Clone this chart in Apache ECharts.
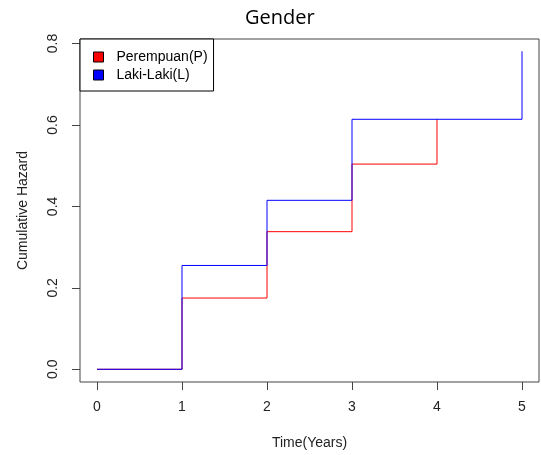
<!DOCTYPE html>
<html>
<head>
<meta charset="utf-8">
<script src="https://cdn.jsdelivr.net/npm/echarts@6/dist/echarts.min.js"></script>
<style>html,body{margin:0;padding:0;background:#fff;}#c{width:541px;height:455px;}</style>
</head>
<body>
<div id="c"></div>
<script>
const timesP = [0, 1, 2, 3, 4];
const hazardP = [0, 0.175, 0.338, 0.504, 0.614];
const timesL = [0, 1, 2, 3, 5];
const hazardL = [0, 0.255, 0.415, 0.614, 0.781];
const xTicks = [0, 1, 2, 3, 4, 5];
const yTicks = [0, 0.2, 0.4, 0.6, 0.8];
const seriesNames = ['Perempuan(P)', 'Laki-Laki(L)'];

const font = 'Liberation Sans';
const chart = echarts.init(document.getElementById('c'), null, {renderer: 'canvas'});
chart.setOption({
  animation: false,
  backgroundColor: '#fff',
  title: {
    text: 'Gender', left: 245, top: 8, padding: 0,
    textStyle: {fontFamily: 'Open Sans', fontSize: 20, fontWeight: 'normal', color: '#000'}
  },
  legend: {
    orient: 'vertical', left: 80, top: 39,
    padding: [11, 6, 9, 13],
    itemGap: 4, itemWidth: 10, itemHeight: 10,
    icon: 'rect',
    borderColor: '#000', borderWidth: 1,
    backgroundColor: '#fff',
    itemStyle: {borderColor: '#000', borderWidth: 1},
    textStyle: {fontFamily: font, fontSize: 14, color: '#000', padding: [0, 0, 0, 8]},
    data: seriesNames
  },
  grid: {left: 80, top: 39, right: 2, bottom: 70, show: true, borderColor: '#444', borderWidth: 1, containLabel: false},
  xAxis: {
    type: 'value', min: -0.2, max: 5.2,
    name: 'Time(Years)', nameLocation: 'middle', nameGap: 54,
    nameTextStyle: {fontFamily: font, fontSize: 14, color: '#222'},
    axisLine: {show: false, onZero: false},
    splitLine: {show: false},
    axisTick: {show: true, inside: false, length: 8, customValues: xTicks, lineStyle: {color: '#444'}},
    axisLabel: {customValues: xTicks, margin: 18, fontFamily: font, fontSize: 14, color: '#222', formatter: v => String(v)}
  },
  yAxis: {
    type: 'value', min: -0.0312, max: 0.8112,
    name: 'Cumulative Hazard', nameLocation: 'middle', nameGap: 50,
    nameTextStyle: {fontFamily: font, fontSize: 14, color: '#222'},
    axisLine: {show: false, onZero: false},
    splitLine: {show: false},
    axisTick: {show: true, inside: false, length: 8, customValues: yTicks, lineStyle: {color: '#444'}},
    axisLabel: {customValues: yTicks, margin: 20, rotate: 90, fontFamily: font, fontSize: 14, color: '#222', formatter: v => v.toFixed(1)}
  },
  series: [
    {
      name: seriesNames[0], type: 'line', step: 'end', showSymbol: false,
      color: '#ff0000', lineStyle: {width: 1, color: '#ff0000'},
      data: timesP.map((t, i) => [t, hazardP[i]])
    },
    {
      name: seriesNames[1], type: 'line', step: 'end', showSymbol: false,
      color: '#0000ff', lineStyle: {width: 1, color: '#0000ff'},
      data: timesL.map((t, i) => [t, hazardL[i]])
    }
  ]
});
</script>
</body>
</html>
